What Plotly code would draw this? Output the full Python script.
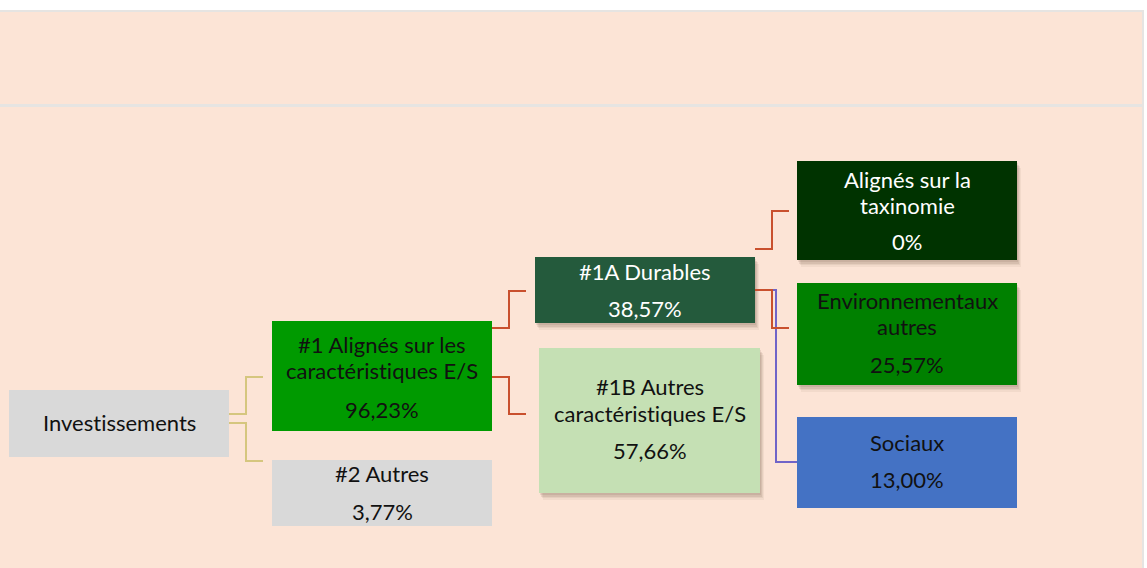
import plotly.graph_objects as go

# ---- data ----
node_ids = ["inv", "n1", "n2", "n1a", "n1b", "taxo", "env", "soc"]
node_titles = [
    ["Investissements"],
    ["#1 Alignés sur les", "caractéristiques E/S"],
    ["#2 Autres"],
    ["#1A Durables"],
    ["#1B Autres", "caractéristiques E/S"],
    ["Alignés sur la", "taxinomie"],
    ["Environnementaux", "autres"],
    ["Sociaux"],
]
node_values = [None, 96.23, 3.77, 38.57, 57.66, 0.0, 25.57, 13.00]


def fmt(v):
    if v is None:
        return None
    if v == 0:
        return "0%"
    return f"{v:.2f}".replace(".", ",") + "%"


def nolig(s):
    # break the "ti" ligature of the font
    return s.replace("ti", "t\u200ci")


# ---- layout (pixel geometry) ----
W, H = 1147, 568
boxes = {  # x0, y0, x1, y1, fill, text colour, shadow
    "inv":  (9, 390, 229, 457, "#D9D9D9", "#111111", False),
    "n1":   (272, 321, 492, 431, "#009A00", "#111111", False),
    "n2":   (272, 460, 492, 526, "#D9D9D9", "#111111", False),
    "n1a":  (535, 257, 755, 323, "#245A3C", "#FFFFFF", True),
    "n1b":  (539, 348, 760, 493, "#C5E0B4", "#111111", True),
    "taxo": (797, 161, 1017, 260, "#003300", "#FFFFFF", True),
    "env":  (797, 283, 1017, 385, "#008000", "#111111", True),
    "soc":  (797, 417, 1017, 508, "#4472C4", "#111111", False),
}
DY = -2
text_y = {
    "inv": ([424], None),
    "n1": ([346, 372], 411),
    "n2": ([475], 513),
    "n1a": ([273], 310),
    "n1b": ([388, 415], 452),
    "taxo": ([181, 207], 243),
    "env": ([302, 328], 366),
    "soc": ([444], 481),
}
connectors = [  # polylines: colour, points
    ("#D5C67E", [(229, 414), (246, 414), (246, 377), (263, 377)]),
    ("#D5C67E", [(229, 423), (246, 423), (246, 461), (263, 461)]),
    ("#C9502E", [(492, 328), (509, 328), (509, 291), (526, 291)]),
    ("#C9502E", [(492, 377), (509, 377), (509, 414), (526, 414)]),
    ("#C9502E", [(755, 249), (772, 249), (772, 211), (789, 211)]),
    ("#7064C8", [(755, 290), (776, 290), (776, 462), (797, 462)]),
    ("#C9502E", [(755, 290), (772, 290), (772, 328), (789, 328)]),
]
FONT = "Lato"
FSIZE = 22

shapes = []
# background bands
shapes.append(dict(type="rect", x0=0, x1=1144, y0=10, y1=H, fillcolor="#E6E4E2", line_width=0, layer="below"))
shapes.append(dict(type="rect", x0=0, x1=1142, y0=12, y1=104, fillcolor="#FCE4D6", line_width=0, layer="below"))
shapes.append(dict(type="rect", x0=0, x1=1142, y0=107, y1=H, fillcolor="#FCE4D6", line_width=0, layer="below"))

# shadows
for nid in node_ids:
    x0, y0, x1, y1, fill, tc, sh = boxes[nid]
    if sh:
        for dx, dy, op in [(1, 2, 0.10), (2, 4, 0.10), (3, 5, 0.08), (4, 7, 0.06)]:
            shapes.append(dict(type="rect", x0=x0 + dx, x1=x1 + dx, y0=y0 + dy, y1=y1 + dy,
                               fillcolor="rgba(90,60,40,%.2f)" % op, line_width=0))
# boxes
for nid in node_ids:
    x0, y0, x1, y1, fill, tc, sh = boxes[nid]
    shapes.append(dict(type="rect", x0=x0, x1=x1, y0=y0, y1=y1, fillcolor=fill, line_width=0))

# connectors
for col, pts in connectors:
    path = "M " + " L ".join(f"{x},{y}" for x, y in pts)
    shapes.append(dict(type="path", path=path, line=dict(color=col, width=2)))

annotations = []
for nid, titles, val in zip(node_ids, node_titles, node_values):
    x0, y0, x1, y1, fill, tc, sh = boxes[nid]
    cx = (x0 + x1) / 2
    ys, vy = text_y[nid]
    for t, yy in zip(titles, ys):
        annotations.append(dict(x=cx, y=yy + DY, text=nolig(t), showarrow=False, xanchor="center", yanchor="middle",
                                font=dict(family=FONT, size=FSIZE, color=tc)))
    if val is not None:
        annotations.append(dict(x=cx, y=vy + DY, text=fmt(val), showarrow=False, xanchor="center", yanchor="middle",
                                font=dict(family=FONT, size=FSIZE, color=tc)))

fig = go.Figure()
fig.add_trace(go.Scatter(x=[0, W], y=[0, H], mode="markers", marker=dict(opacity=0), hoverinfo="skip", showlegend=False))
fig.update_layout(
    width=W, height=H, margin=dict(l=0, r=0, t=0, b=0),
    paper_bgcolor="#FFFFFF", plot_bgcolor="#FFFFFF",
    xaxis=dict(range=[0, W], visible=False, fixedrange=True),
    yaxis=dict(range=[H, 0], visible=False, fixedrange=True),
    shapes=shapes, annotations=annotations, showlegend=False,
)
fig.write_html("out.html", config={"displayModeBar": False},
               post_script="document.body.style.margin='0';document.body.style.overflow='hidden';")
